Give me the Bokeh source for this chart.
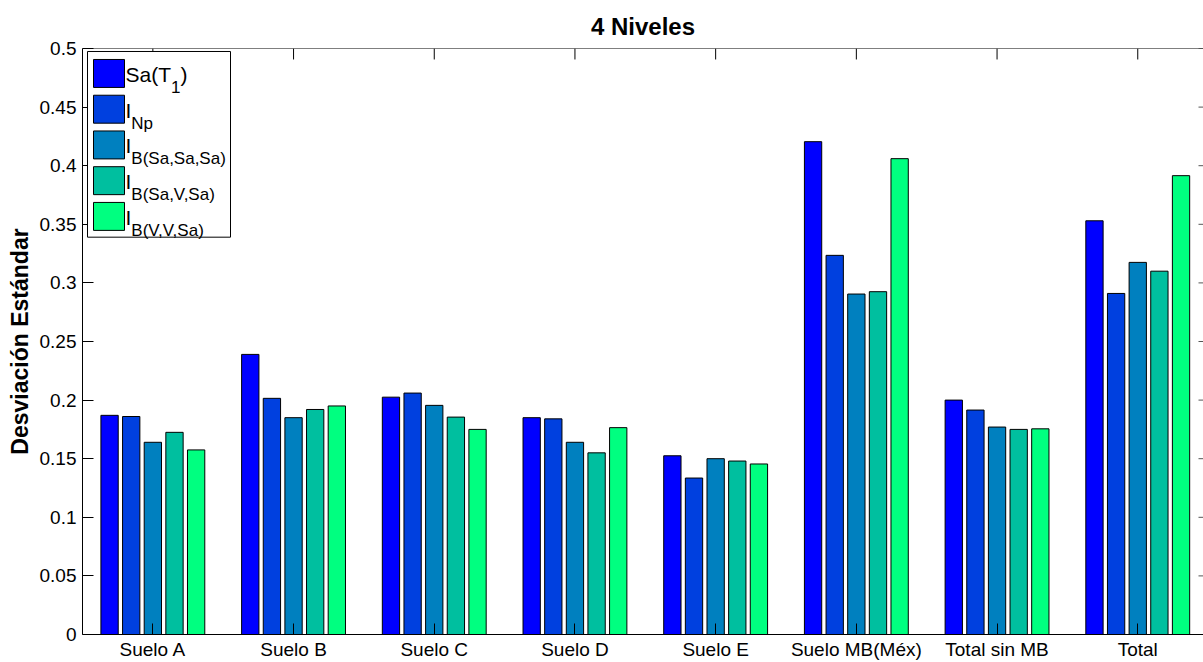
import numpy as np
from bokeh.plotting import figure
from bokeh.models import Range1d, FixedTicker, BoxAnnotation, Label, ColumnDataSource, Span
from bokeh.embed import file_html
from bokeh.resources import INLINE

# ---- data ---------------------------------------------------------------
groups = ["Suelo A", "Suelo B", "Suelo C", "Suelo D", "Suelo E",
          "Suelo MB(Méx)", "Total sin MB", "Total"]

sa_t1      = [0.187, 0.239, 0.2025, 0.185, 0.1525, 0.4205, 0.200, 0.353]
i_np       = [0.186, 0.2015, 0.206, 0.184, 0.1335, 0.3235, 0.1915, 0.291]
i_b_sasasa = [0.164, 0.185, 0.1955, 0.164, 0.150, 0.2905, 0.177, 0.3175]
i_b_savsa  = [0.1725, 0.192, 0.1855, 0.155, 0.148, 0.2925, 0.175, 0.310]
i_b_vvsa   = [0.1575, 0.195, 0.175, 0.1765, 0.1455, 0.406, 0.1755, 0.3915]

series_values = [sa_t1, i_np, i_b_sasasa, i_b_savsa, i_b_vvsa]

# legend entries: main text, subscript, trailing text
legend_main = ["Sa(T", "I", "I", "I", "I"]
legend_sub = ["1", "Np", "B(Sa,Sa,Sa)", "B(Sa,V,Sa)", "B(V,V,Sa)"]
legend_tail = [")", "", "", "", ""]

y_ticks = [0, 0.05, 0.1, 0.15, 0.2, 0.25, 0.3, 0.35, 0.4, 0.45, 0.5]
y_tick_labels = ["0", "0.05", "0.1", "0.15", "0.2", "0.25", "0.3", "0.35", "0.4", "0.45", "0.5"]

# winter colormap, one colour per series
series_colors = ["#0000FF", "#0040DF", "#0080BF", "#00BF9F", "#00FF80"]

# ---- layout -------------------------------------------------------------
W, H = 1203, 662
LEFT, TOP, BOTTOM = 82, 48, 27
PX_PER_X = 140.7
X_START = 0.5
X_END = X_START + (W - LEFT) / PX_PER_X
Y_MAX = 0.5
FRAME_BOTTOM = H - BOTTOM
PX_PER_Y = (FRAME_BOTTOM - TOP) / Y_MAX

FONT = "Liberation Sans"
TICK_SIZE = "19px"
TICK_LEN = 11

n_series = len(series_values)
bar_step = 0.1538
bar_width = 0.123
positions = np.arange(1, len(groups) + 1)

p = figure(width=W, height=H, output_backend="svg", toolbar_location=None,
           x_range=Range1d(X_START, X_END), y_range=Range1d(0, Y_MAX),
           min_border_left=LEFT, min_border_right=0,
           min_border_top=TOP, min_border_bottom=BOTTOM,
           title="4 Niveles")

p.xgrid.visible = False
p.ygrid.visible = False
p.outline_line_color = None
p.background_fill_color = "white"
p.border_fill_color = "white"

p.title.align = "center"
p.title.text_font = FONT
p.title.text_font_size = "24px"
p.title.text_font_style = "bold"
p.title.text_color = "black"
p.title.text_line_height = 0.8
p.title.standoff = 18


def style_axis(ax):
    ax.axis_line_color = "black"
    ax.axis_line_width = 1
    ax.major_tick_in = TICK_LEN
    ax.major_tick_out = 0
    ax.major_tick_line_color = "black"
    ax.minor_tick_line_color = None
    ax.major_label_text_font = FONT
    ax.major_label_text_font_size = TICK_SIZE
    ax.major_label_text_color = "black"


# bottom axis: group names
xax = p.xaxis[0]
style_axis(xax)
xax.ticker = FixedTicker(ticks=list(positions))
xax.major_label_overrides = {int(v): g for v, g in zip(positions, groups)}
xax.major_label_standoff = 4

# left axis
yax = p.yaxis[0]
style_axis(yax)
yax.ticker = FixedTicker(ticks=y_ticks)
yax.major_label_overrides = {t: s for t, s in zip(y_ticks, y_tick_labels)}
yax.major_label_standoff = 6
yax.axis_label = "Desviación Estándar"
yax.axis_label_text_font = FONT
yax.axis_label_text_font_size = "23px"
yax.axis_label_text_font_style = "bold"
yax.axis_label_text_color = "black"
yax.axis_label_standoff = 4

# top edge of the box, with inward ticks on top and right
p.add_layout(Span(location=Y_MAX, dimension="width", line_color="black", line_width=1))
p.segment(x0=positions, x1=positions, y0=[Y_MAX] * len(positions),
          y1=[Y_MAX - TICK_LEN / PX_PER_Y] * len(positions), line_color="black", line_width=1)
p.segment(x0=[X_END - 5 / PX_PER_X] * len(y_ticks), x1=[X_END] * len(y_ticks),
          y0=y_ticks, y1=y_ticks, line_color="#555555", line_width=1)

# grouped bars
for k, (vals, col) in enumerate(zip(series_values, series_colors)):
    offset = (k - (n_series - 1) / 2) * bar_step
    src = ColumnDataSource(dict(x=positions + offset, top=vals))
    p.vbar(x="x", top="top", bottom=0, width=bar_width, source=src,
           fill_color=col, line_color="black", line_width=1)


# ---- helpers to place annotations by pixel --------------------------------
def dx(px):
    return X_START + (px - LEFT) / PX_PER_X


def dy(py):
    return (FRAME_BOTTOM - py) / PX_PER_Y


# ---- legend (drawn by hand to allow subscripts) -------------------------
# advance widths (per 1000 em) of the characters used before subscripts
ADV = {"S": 667, "a": 556, "(": 333, "T": 611, "I": 278, "1": 556}
MAIN_PX, SUB_PX = 21, 17


def text_width(s, size):
    return sum(ADV.get(c, 556) for c in s) * size / 1000.0


p.add_layout(BoxAnnotation(left=dx(87), right=dx(230), top=dy(51), bottom=dy(237),
                           fill_color="white", fill_alpha=1.0,
                           line_color="black", line_width=1, line_alpha=1.0))

ENTRY_STEP = 35.8
for i, (main, sub, tail, col) in enumerate(zip(legend_main, legend_sub, legend_tail, series_colors)):
    top_px = 59 + i * ENTRY_STEP
    p.add_layout(BoxAnnotation(left=dx(93), right=dx(124), top=dy(top_px), bottom=dy(top_px + 28),
                               fill_color=col, fill_alpha=1.0,
                               line_color="black", line_width=1, line_alpha=1.0))
    base = top_px + 15
    x0 = 125
    p.add_layout(Label(x=dx(x0), y=dy(base), text=main, text_font=FONT,
                       text_font_size=f"{MAIN_PX}px", text_baseline="alphabetic",
                       text_align="left", text_color="black"))
    xs = x0 + text_width(main, MAIN_PX)
    p.add_layout(Label(x=dx(xs), y=dy(base + 13), text=sub, text_font=FONT,
                       text_font_size=f"{SUB_PX}px", text_baseline="alphabetic",
                       text_align="left", text_color="black"))
    if tail:
        xt = xs + text_width(sub, SUB_PX)
        p.add_layout(Label(x=dx(xt), y=dy(base), text=tail, text_font=FONT,
                           text_font_size=f"{MAIN_PX}px", text_baseline="alphabetic",
                           text_align="left", text_color="black"))

open("out.html", "w").write(file_html(p, INLINE))
